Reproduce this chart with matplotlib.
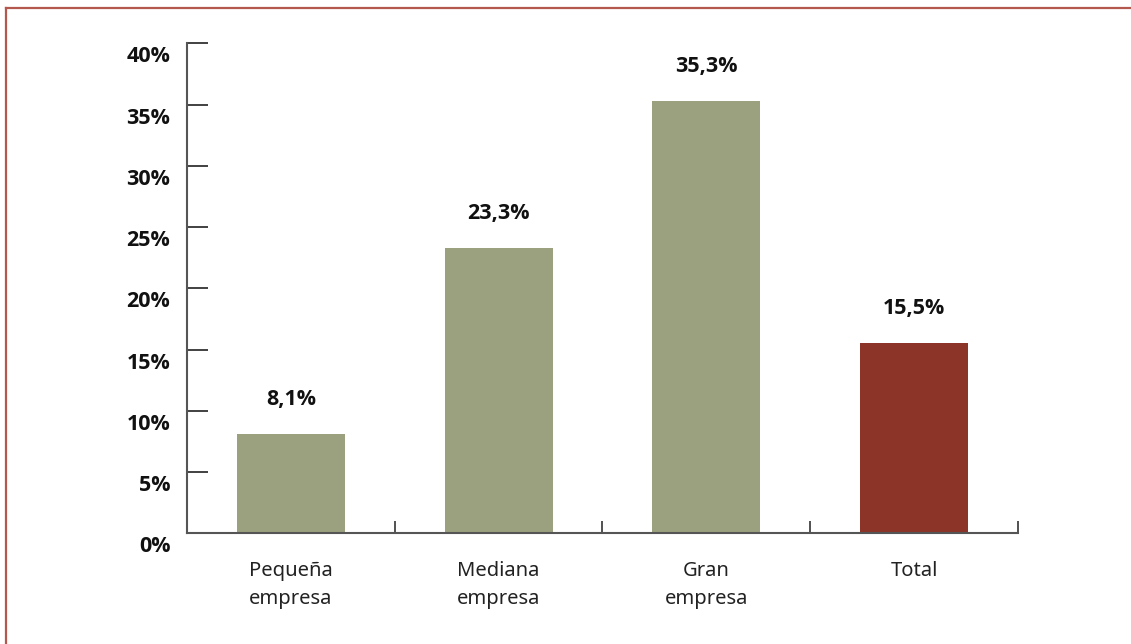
import matplotlib
matplotlib.use("Agg")
import matplotlib.pyplot as plt
import matplotlib.transforms as mtransforms
from matplotlib.lines import Line2D
import numpy as np

# Datos: porcentaje por tamano de empresa
categorias = ["Pequeña\nempresa", "Mediana\nempresa", "Gran\nempresa", "Total"]
valores = [8.1, 23.3, 35.3, 15.5]
etiquetas = ["8,1%", "23,3%", "35,3%", "15,5%"]
colores = ["#9ba17f", "#9ba17f", "#9ba17f", "#8d3428"]
yticks = [0, 5, 10, 15, 20, 25, 30, 35, 40]

fig = plt.figure(figsize=(11.31, 6.44), dpi=100)
ax = fig.add_axes([0.1653, 0.1718, 0.7348, 0.7609])

x = np.arange(len(categorias))
ax.bar(x, valores, width=0.52, color=colores, zorder=2)

for xi, v, txt in zip(x, valores, etiquetas):
    ax.annotate(txt, (xi, v), xytext=(0, 25), textcoords="offset points",
                ha="center", va="center", fontsize=15.5, fontweight="bold",
                family="Open Sans", stretch="condensed", color="#111111")

ax.set_xlim(-0.5, len(categorias) - 0.5)
ax.set_ylim(0, 40)

ax.spines["top"].set_visible(False)
ax.spines["right"].set_visible(False)
for s in ("left", "bottom"):
    ax.spines[s].set_color("#555555")
    ax.spines[s].set_linewidth(1.5)

# eje y: marcas hacia dentro, etiquetas en negrita algo desplazadas hacia abajo
ax.set_yticks(yticks)
ax.set_yticklabels([f"{t}%" for t in yticks])
ax.tick_params(axis="y", direction="in", length=15, width=1.3, color="#333333",
               pad=12, labelsize=15.5)
off = mtransforms.ScaledTranslation(0, -8 / 72, fig.dpi_scale_trans)
for lab in ax.get_yticklabels():
    lab.set_fontweight("bold")
    lab.set_family("Open Sans")
    lab.set_color("#111111")
    lab.set_transform(lab.get_transform() + off)

# eje x: marcas entre categorias, nombres centrados bajo las barras
ax.set_xticks(np.arange(len(categorias) + 1) - 0.5)
ax.set_xticklabels([])
ax.tick_params(axis="x", which="major", direction="in", length=9, width=1.2,
               color="#333333")
ax.set_xticks(x, minor=True)
ax.set_xticklabels(categorias, minor=True, fontsize=14.5, color="#222222",
                   family="Noto Sans", stretch="condensed", linespacing=1.5)
ax.tick_params(axis="x", which="minor", length=0, pad=20)

# marco superior e izquierdo
fig.add_artist(Line2D([6 / 1131, 6 / 1131], [0, 1 - 8 / 644],
                      transform=fig.transFigure, color="#b4574c", lw=1.6))
fig.add_artist(Line2D([6 / 1131, 1], [1 - 8 / 644, 1 - 8 / 644],
                      transform=fig.transFigure, color="#b4574c", lw=1.6))

fig.savefig("out.png", dpi=100)
